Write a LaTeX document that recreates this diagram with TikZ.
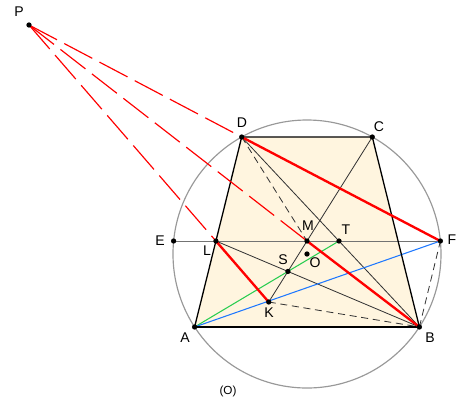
\documentclass[tikz,border=0pt]{standalone}
\usepackage{fontspec}
\setmainfont{Liberation Sans}
\usetikzlibrary{calc}
\definecolor{cream}{RGB}{255,245,223}
\definecolor{ptgreen}{RGB}{40,205,80}
\definecolor{ptblue}{RGB}{30,120,255}
\begin{document}
\begin{tikzpicture}[x=0.03cm,y=-0.03cm,
    pt/.style={circle,fill=black,inner sep=0pt,minimum size=4.5pt},
    lbl/.style={font=\fontsize{12}{14}\selectfont},
    thinline/.style={draw=black!80,line width=0.7pt},
    blackdash/.style={draw=black!80,line width=0.7pt,dash pattern=on 6pt off 4pt},
    reddash/.style={draw=red,line width=1pt,dash pattern=on 27pt off 7pt},
    redline/.style={draw=red,line width=2pt}]
    \useasboundingbox (0,0) rectangle (468,410);

    % The circle and the points on it
    \coordinate (O) at (307,254);
    \coordinate (A) at (194.6,327);
    \coordinate (B) at (419.4,327);
    \coordinate (C) at (372.3,137);
    \coordinate (D) at (241.7,137);
    \coordinate (E) at (173.6,241);
    \coordinate (F) at (440.4,241);
    \coordinate (P) at (29,25);

    % Points found from the others
    \coordinate (M) at ($(E)!0.5!(F)$);
    \coordinate (L) at (intersection of A--D and E--F);
    \coordinate (T) at (intersection of D--B and E--F);
    \coordinate (K) at (intersection of P--L and C--M);
    \coordinate (S) at (intersection of L--B and C--M);

    % Fill the trapezoid
    \fill[cream] (A) -- (B) -- (C) -- (D) -- cycle;
    \draw[black!40,line width=1pt] (O) circle (134);
    \draw[black!55,line width=0.8pt] (E) -- (F);

    % Inner lines
    \draw[thinline] (D) -- (B);
    \draw[thinline] (L) -- (B);
    \draw[thinline] (C) -- (K);
    \draw[blackdash] (D) -- (M);
    \draw[blackdash] (K) -- (B);
    \draw[blackdash] (B) -- (F);
    \draw[ptgreen,line width=0.9pt] (A) -- (T);
    \draw[ptblue,line width=0.9pt] (A) -- (F);

    % Edges of the trapezoid
    \draw[line width=1.1pt] (B) -- (C) -- (D) -- (A);
    \draw[line width=1.6pt] (A) -- (B);

    % Lines from P
    \draw[reddash] (P) -- (D);
    \draw[reddash] (P) -- (L);
    \draw[reddash] (P) -- (M);
    \draw[redline] (D) -- (F);
    \draw[redline] (L) -- (K);
    \draw[redline] (M) -- (B);

    % Dots and labels
    \foreach \n in {P,A,B,C,D,E,F,L,M,T,O,S,K}
    \node[pt] (d\n) at (\n) {};
    \foreach \n/\x/\y in {
        P/19/12, D/242/123, C/379/127, E/160/241, F/452/240, L/207/251,
        M/308/226, T/346/230, O/315/263, S/283/260, K/269/313, A/185/338,
        B/430/338
    }
    \node[lbl] (l\n) at (\x,\y) {\n};
    \node[font=\fontsize{10}{12}\selectfont] (lcircle) at (228,391) {(O)};
\end{tikzpicture}
\end{document}
